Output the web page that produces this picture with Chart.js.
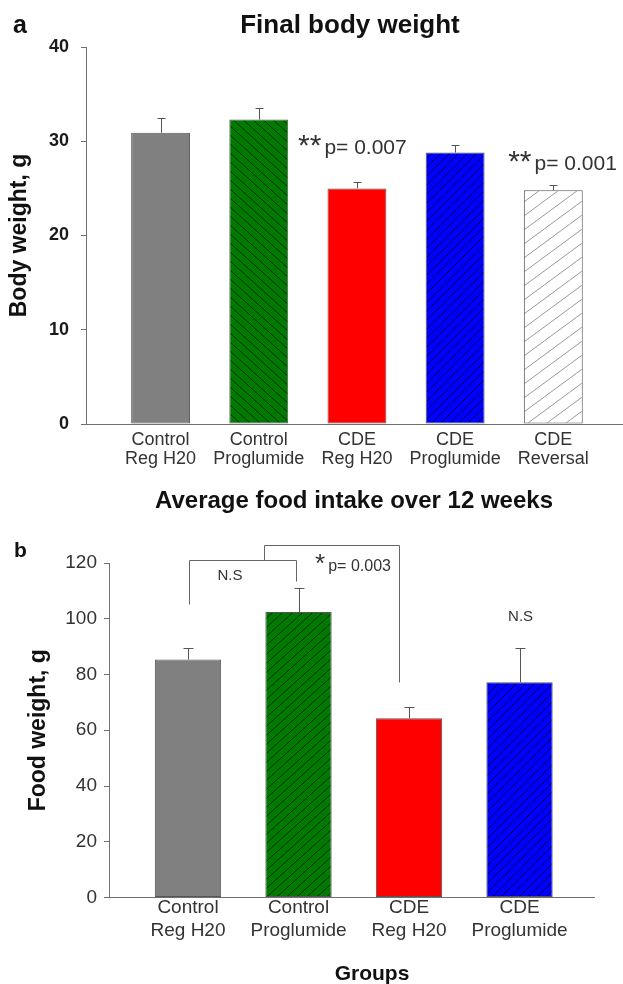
<!DOCTYPE html>
<html>
<head>
<meta charset="utf-8">
<script src="https://cdn.jsdelivr.net/npm/chart.js@4.4.1/dist/chart.umd.min.js"></script>
<style>
body{margin:0;background:#fff;}
#wrap{position:relative;width:623px;height:984px;}
#topBox{position:absolute;left:0;top:0;width:623px;height:480px;}
#botBox{position:absolute;left:0;top:480px;width:623px;height:504px;}
</style>
</head>
<body>
<div id="wrap">
<div id="topBox"><canvas id="weightChart" width="623" height="480"></canvas></div>
<div id="botBox"><canvas id="foodChart" width="623" height="504"></canvas></div>
</div>
<script>
// ===============================
// Data
// ===============================

const weightGroups=[['Control','Reg H20'],['Control','Proglumide'],['CDE','Reg H20'],['CDE','Proglumide'],['CDE','Reversal']];
const weightMean=[30.9,32.3,25.0,28.8,24.8];
const weightErr=[1.6,1.2,0.7,0.8,0.6];
const weightTicks=[0,10,20,30,40];

const foodGroups=[['Control','Reg H20'],['Control','Proglumide'],['CDE','Reg H20'],['CDE','Proglumide']];
const foodMean=[85.4,102.4,64.3,77.2];
const foodErr=[4.1,8.8,3.9,12.3];
const foodTicks=[0,20,40,60,80,100,120];

const FONT='"Liberation Sans", Arial, sans-serif';
const AXIS='#707070';
const INK='#333';

// ===============================
// Hatch fills
// ===============================

function hatch(bg,ink,w,h,back){
const c=document.createElement('canvas');
c.width=w;c.height=h;
const g=c.getContext('2d');
g.fillStyle=bg;g.fillRect(0,0,w,h);
g.strokeStyle=ink;g.lineWidth=1;
g.beginPath();
for(const o of [-w,0,w]){
if(back){g.moveTo(o,0);g.lineTo(o+w,h);}
else{g.moveTo(o,h);g.lineTo(o+w,0);}
}
g.stroke();
return g.createPattern(c,'repeat');
}

// ===============================
// Error bars (upper only)
// ===============================

function errorBars(means,errs,cap){
return{
id:'err',
afterDatasetsDraw(chart){
const {ctx,scales:{x,y}}=chart;
ctx.save();
ctx.strokeStyle='#555';
ctx.lineWidth=1;
means.forEach((m,i)=>{
const px=Math.round(x.getPixelForValue(i+1))+0.5;
const y0=y.getPixelForValue(m);
const y1=Math.round(y.getPixelForValue(m+errs[i]))+0.5;
ctx.beginPath();
ctx.moveTo(px,y0);ctx.lineTo(px,y1);
ctx.moveTo(px-cap,y1);ctx.lineTo(px+cap,y1);
ctx.stroke();
});
ctx.restore();
}
};
}

function starText(ctx,x,y,stars,starSize,text,textSize){
ctx.font=starSize+'px '+FONT;
ctx.textAlign='left';
ctx.textBaseline='alphabetic';
ctx.fillText(stars,x,y+1);
const w=ctx.measureText(stars).width;
ctx.font=textSize+'px '+FONT;
ctx.fillText(text,x+w+3,y);
}

// ===============================
// Final body weight (a)
// ===============================

const weightCtx=document.getElementById('weightChart');

const weightOverlay={
id:'weightOverlay',
afterDraw(chart){
const {ctx,scales:{x,y}}=chart;
ctx.save();
ctx.fillStyle='#111';
ctx.textBaseline='alphabetic';
ctx.font='bold 25px '+FONT;
ctx.textAlign='left';
ctx.fillText('a',13,33);
ctx.font='bold 26px '+FONT;
ctx.textAlign='center';
ctx.fillText('Final body weight',350,33);
ctx.fillStyle=INK;
starText(ctx,x.getPixelForValue(2.40),y.getPixelForValue(28.6),'**',30,'p= 0.007',21);
starText(ctx,x.getPixelForValue(4.54),y.getPixelForValue(27.0),'**',30,'p= 0.001',21);
ctx.restore();
}
};

if(weightCtx){

new Chart(weightCtx,{
type:'bar',
data:{
datasets:[{
data:weightMean.map((v,i)=>({x:i+1,y:v})),
backgroundColor:[
'#808080',
hatch('#007a00','rgba(0,20,0,0.75)',10,9,true),
'#ff0000',
hatch('#0000ff','rgba(0,0,30,0.8)',9,9,false),
hatch('#ffffff','#999999',19,14,false)
],
borderColor:'#555',
borderWidth:1,
borderSkipped:false,
barPercentage:0.6,
categoryPercentage:1
}]
},
options:{
responsive:false,
animation:false,
layout:{padding:{top:47,right:0,bottom:0,left:0}},
plugins:{legend:{display:false},tooltip:{enabled:false}},
scales:{
x:{
type:'linear',
offset:false,
min:0.24,max:5.71,
afterBuildTicks:s=>{s.ticks=weightGroups.map((g,i)=>({value:i+1}));},
afterFit:s=>{s.height=56;},
ticks:{
callback:v=>weightGroups[v-1],
autoSkip:false,maxRotation:0,
padding:6,color:INK,
font:{family:FONT,size:18,lineHeight:1.06}
},
grid:{display:false,drawTicks:false,offset:false},
border:{display:true,color:AXIS,width:1}
},
y:{
min:0,max:40,
afterBuildTicks:s=>{s.ticks=weightTicks.map(v=>({value:v}));},
afterFit:s=>{s.width=86;},
ticks:{padding:12,color:'#1a1a1a',font:{family:FONT,size:18,weight:'bold'}},
grid:{drawOnChartArea:false,tickLength:5,color:AXIS},
border:{color:AXIS,width:1},
title:{display:true,text:'Body weight, g',color:'#111',padding:{top:6,bottom:0},font:{family:FONT,size:23,weight:'bold'}}
}
}
},
plugins:[errorBars(weightMean,weightErr,4),weightOverlay]
});

}

// ===============================
// Average food intake (b)
// ===============================

const foodCtx=document.getElementById('foodChart');

const brackets=[
[[1.01,105.3],[1.01,121],[1.98,121],[1.98,113.4]],
[[1.69,121],[1.69,126.4],[2.91,126.4],[2.91,77.3]]
];

const foodOverlay={
id:'foodOverlay',
afterDraw(chart){
const {ctx,scales:{x,y}}=chart;
ctx.save();
ctx.fillStyle='#111';
ctx.textBaseline='alphabetic';
ctx.font='bold 24px '+FONT;
ctx.textAlign='center';
ctx.fillText('Average food intake over 12 weeks',354,28);
ctx.font='bold 21px '+FONT;
ctx.textAlign='left';
ctx.fillText('b',14,77);
ctx.textAlign='center';
ctx.fillText('Groups',372,500);

ctx.strokeStyle='#666';
ctx.lineWidth=1;
brackets.forEach(b=>{
ctx.beginPath();
b.forEach((p,i)=>{
const px=Math.round(x.getPixelForValue(p[0]))+0.5;
const py=Math.round(y.getPixelForValue(p[1]))+0.5;
if(i===0)ctx.moveTo(px,py);else ctx.lineTo(px,py);
});
ctx.stroke();
});

ctx.fillStyle=INK;
ctx.font='15px '+FONT;
ctx.textAlign='center';
ctx.textBaseline='middle';
ctx.fillText('N.S',x.getPixelForValue(1.38),y.getPixelForValue(115.3));
ctx.fillText('N.S',x.getPixelForValue(4.01),y.getPixelForValue(100.6));
starText(ctx,x.getPixelForValue(2.15),y.getPixelForValue(117.0),'*',26,'p= 0.003',16);
ctx.restore();
}
};

if(foodCtx){

new Chart(foodCtx,{
type:'bar',
data:{
datasets:[{
data:foodMean.map((v,i)=>({x:i+1,y:v})),
backgroundColor:[
'#808080',
hatch('#007a00','rgba(0,20,0,0.75)',10,9,false),
'#ff0000',
hatch('#0000ff','rgba(0,0,30,0.8)',9,9,false)
],
borderColor:'#555',
borderWidth:1,
borderSkipped:false,
barPercentage:0.6,
categoryPercentage:1
}]
},
options:{
responsive:false,
animation:false,
layout:{padding:{top:83,right:29,bottom:0,left:0}},
plugins:{legend:{display:false},tooltip:{enabled:false}},
scales:{
x:{
type:'linear',
offset:false,
min:0.285,max:4.674,
afterBuildTicks:s=>{s.ticks=foodGroups.map((g,i)=>({value:i+1}));},
afterFit:s=>{s.height=86.5;},
ticks:{
callback:v=>foodGroups[v-1],
autoSkip:false,maxRotation:0,
padding:-1,color:INK,
font:{family:FONT,size:19,lineHeight:1.21}
},
grid:{display:false,drawTicks:false,offset:false},
border:{display:true,color:AXIS,width:1}
},
y:{
min:0,max:120,
afterBuildTicks:s=>{s.ticks=foodTicks.map(v=>({value:v}));},
afterFit:s=>{s.width=109;},
ticks:{padding:7,color:INK,font:{family:FONT,size:19}},
grid:{drawOnChartArea:false,tickLength:5,color:AXIS},
border:{color:AXIS,width:1},
title:{display:true,text:'Food weight, g',color:'#111',padding:{top:25,bottom:0},font:{family:FONT,size:23,weight:'bold'}}
}
}
},
plugins:[errorBars(foodMean,foodErr,5),foodOverlay]
});

}
</script>
</body>
</html>
